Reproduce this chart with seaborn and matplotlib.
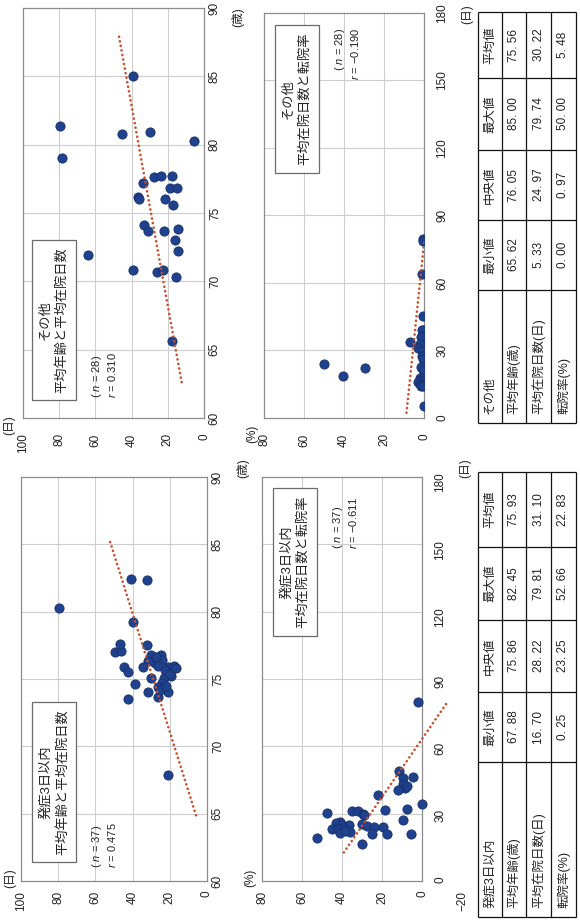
import numpy as np
import pandas as pd
import matplotlib
matplotlib.use("Agg")
import matplotlib.pyplot as plt
import seaborn as sns

# ---- data read off the (rotated) scan ----
# その他 (n = 28): mean age vs mean stay
other_age = [85.0, 81.4, 79.0, 80.8, 80.9, 80.3, 77.2, 77.6, 77.7, 77.7, 76.2, 76.0, 76.8, 76.8,
             76.0, 75.6, 74.1, 73.7, 73.7, 73.8, 73.0, 72.2, 71.9, 70.8, 70.7, 70.8, 70.3, 65.62]
other_days_a = [39.2, 79.74, 78.5, 45.3, 29.8, 5.33, 33.7, 27.6, 23.8, 17.7, 36.5, 35.9, 18.8, 14.9,
                21.5, 17.1, 33.1, 30.9, 22.1, 14.4, 16.0, 14.4, 64.1, 39.2, 26.0, 22.7, 15.5, 17.7]
# その他: mean stay vs transfer rate
other_days_b = [79.74, 78.5, 64.1, 45.3, 39.2, 39.2, 36.5, 35.9, 33.7, 33.1, 30.9, 29.8, 27.6, 26.0,
                23.8, 22.7, 22.1, 21.5, 18.8, 17.7, 17.7, 17.1, 16.0, 15.5, 14.9, 14.4, 14.4, 5.33]
other_rate = [0.5, 0.6, 0.8, 0.3, 0.3, 0.9, 0.8, 1.5, 7.0, 2.0, 2.8, 0.9, 1.0, 0.7,
              50.0, 1.6, 29.5, 0.7, 40.5, 2.0, 1.0, 1.4, 3.0, 1.1, 2.0, 1.4, 0.5, 0.0]

# 発症3日以内 (n = 37): mean age vs mean stay
early_age = [80.3, 82.45, 82.35, 79.2, 77.0, 77.1, 77.6, 77.5, 76.8, 76.8, 76.4, 76.2, 76.3, 76.0,
             75.9, 75.5, 75.9, 75.9, 76.0, 75.5, 75.2, 75.1, 75.1, 74.7, 74.4, 74.6, 74.0, 73.7,
             74.0, 73.5, 67.88, 75.7, 75.4, 74.2, 74.5, 75.8, 76.6]
early_days_a = [79.81, 40.9, 32.3, 39.8, 49.5, 46.2, 46.8, 32.3, 30.1, 24.7, 24.2, 28.0, 31.7, 26.3,
                44.6, 42.5, 34.4, 21.0, 17.7, 21.5, 19.4, 30.1, 23.1, 24.2, 26.3, 38.7, 31.7, 26.3,
                21.0, 42.5, 21.0, 22.6, 19.9, 25.3, 22.0, 16.7, 27.4]
# 発症3日以内: mean stay vs transfer rate
early_days_b = [79.8, 49.2, 46.3, 46.0, 43.4, 41.6, 42.3, 40.5, 38.3, 34.3, 32.0, 31.7, 31.0, 31.0,
                30.4, 30.0, 27.2, 26.3, 25.7, 25.4, 25.0, 25.0, 24.5, 24.2, 24.2, 23.5, 23.0, 23.0,
                22.0, 21.2, 20.9, 20.9, 20.9, 19.0, 16.7, 29.5, 22.5]
early_rate = [1.8, 11.3, 4.3, 9.3, 9.3, 8.5, 7.7, 11.8, 22.2, 0.25, 7.3, 18.5, 35.0, 32.2,
              47.3, 29.7, 9.3, 41.0, 43.0, 30.2, 40.2, 36.3, 27.7, 23.8, 19.6, 39.3, 45.2, 41.8,
              36.0, 41.0, 25.2, 17.7, 5.7, 52.66, 30.0, 29.0, 38.5]

# summary tables
stat_names = ["最小値", "中央値", "最大値", "平均値"]
row_names = ["平均年齢(歳)", "平均在院日数(日)", "転院率(%)"]
other_stats = [[65.62, 76.05, 85.00, 75.56], [5.33, 24.97, 79.74, 30.22], [0.00, 0.97, 50.00, 5.48]]
early_stats = [[67.88, 75.86, 82.45, 75.93], [16.70, 28.22, 79.81, 31.10], [0.25, 23.25, 52.66, 22.83]]

age_ticks = [60, 65, 70, 75, 80, 85, 90]
stay_ticks = [100, 80, 60, 40, 20, 0]
rate_ticks = [80, 60, 40, 20, 0]
day_ticks = [0, 30, 60, 90, 120, 150, 180]

# ---- style ----
sns.set_style("white")
plt.rcParams["font.family"] = ["Liberation Sans", "Noto Sans CJK JP"]
plt.rcParams["mathtext.fontset"] = "custom"
plt.rcParams["mathtext.it"] = "Liberation Sans:italic"
plt.rcParams["mathtext.rm"] = "Liberation Sans"

W, H = 580, 922
DOT = "#20418e"
TREND = "#c9502e"
GRID = "#cdcdcd"
FRAME = "#8c8c8c"

fig = plt.figure(figsize=(W / 100, H / 100), dpi=100)
fig.patch.set_facecolor("white")


def box(x0, y0, x1, y1):
    # pixel box in image coords (y down) -> figure rect
    return [x0 / W, 1 - y1 / H, (x1 - x0) / W, (y1 - y0) / H]


def trend(x, y, back, fwd):
    x = np.asarray(x)
    k, b = np.polyfit(x, np.asarray(y), 1)
    xs = np.array([x.min() - back, x.max() + fwd])
    return xs, k * xs + b


def setup(ax, xlim, xticks, ylim, yticks, xpad, ypad):
    ax.set_xlim(*xlim)
    ax.set_ylim(*ylim)
    ax.set_xticks(xticks)
    ax.set_yticks(yticks)
    ax.yaxis.tick_right()
    ax.tick_params(length=0, labelsize=8.5, colors="#222222")
    ax.tick_params(axis="x", pad=xpad, labelrotation=90)
    ax.tick_params(axis="y", pad=ypad, labelrotation=90)
    for lab in ax.get_yticklabels():
        lab.set_va("center")
    for sp in ax.spines.values():
        sp.set_color(FRAME)
        sp.set_linewidth(0.9)
    ax.set_xlabel("")
    ax.set_ylabel("")


def dots(ax, x, y):
    sns.scatterplot(x=x, y=y, ax=ax, color=DOT, s=44, edgecolor="#15306a",
                    linewidth=0.6, zorder=3, legend=False)


def tline(ax, x, y):
    ax.plot(x, y, color=TREND, lw=1.9, linestyle=(0, (0.05, 1.7)),
            dash_capstyle="round", zorder=4)


# panel A: その他 age vs stay
axA = fig.add_axes(box(23, 8, 204, 418))
setup(axA, (100, 0), stay_ticks, (60, 90), age_ticks, 11, 3.5)
axA.vlines(stay_ticks[1:-1], 60, 90, color=GRID, lw=0.8, zorder=0)
axA.hlines(age_ticks[1:-1], 0, 100, color=GRID, lw=0.8, zorder=0)
dots(axA, other_days_a, other_age)
ages, fit = trend(other_age, other_days_a, 3, 3)
tline(axA, fit, ages)

# panel B: その他 stay vs transfer rate
axB = fig.add_axes(box(264, 13, 424, 418))
setup(axB, (80, 0), rate_ticks, (0, 180), day_ticks, 11, 9)
axB.vlines(rate_ticks[1:-1], 0, 180, color=GRID, lw=0.8, zorder=0)
axB.hlines(day_ticks[1:-1], 0, 80, color=GRID, lw=0.8, zorder=0)
dots(axB, other_rate, other_days_b)
days, fit = trend(other_days_b, other_rate, 3, 0)
tline(axB, fit, days)

# panel C: 発症3日以内 age vs stay
axC = fig.add_axes(box(21, 477, 207, 881))
setup(axC, (100, 0), stay_ticks, (60, 90), age_ticks, 7, 3.5)
axC.vlines(stay_ticks[1:-1], 60, 90, color=GRID, lw=0.8, zorder=0)
axC.hlines(age_ticks[1:-1], 0, 100, color=GRID, lw=0.8, zorder=0)
dots(axC, early_days_a, early_age)
ages, fit = trend(early_age, early_days_a, 3, 3)
tline(axC, fit, ages)

# panel D: 発症3日以内 stay vs transfer rate (axis runs to -20)
axD = fig.add_axes(box(262, 477, 462, 881))
setup(axD, (80, -20), rate_ticks + [-20], (0, 180), day_ticks, 7, 9)
axD.spines["right"].set_position(("data", 0))
axD.spines["top"].set_bounds(0, 80)
axD.spines["bottom"].set_bounds(0, 80)
axD.vlines(rate_ticks[1:-1], 0, 180, color=GRID, lw=0.8, zorder=0)
axD.hlines(day_ticks[1:-1], 0, 80, color=GRID, lw=0.8, zorder=0)
dots(axD, early_rate, early_days_b)
days, fit = trend(early_days_b, early_rate, 4, 0)
tline(axD, fit, days)

# overlay in pixel coords for labels, boxes and tables
axT = fig.add_axes([0, 0, 1, 1])
axT.set_xlim(0, W)
axT.set_ylim(H, 0)
axT.axis("off")


def t(x, y, s, size=8.5, **kw):
    kw.setdefault("ha", "center")
    kw.setdefault("va", "center")
    axT.text(x, y, s, rotation=90, fontsize=size, color="#222222", **kw)


# axis units
for x, y, s in [(9, 425, "(日)"), (238, 17, "(歳)"), (252, 434, "(%)"), (467, 14, "(日)"),
                (10, 878, "(日)"), (243, 468, "(歳)"), (250, 878, "(%)"), (465, 468, "(日)")]:
    t(x, y, s, size=8.5)

# chart title boxes
bbox = dict(boxstyle="square,pad=0.55", fc="white", ec="#6a6a6a", lw=0.9)
t(54, 320, "その他\n平均年齢と平均在院日数", size=9.5, linespacing=1.45, bbox=bbox)
t(297, 99, "その他\n平均在院日数と転院率", size=9.5, linespacing=1.45, bbox=bbox)
t(54, 782, "発症3日以内\n平均年齢と平均在院日数", size=9.5, linespacing=1.45, bbox=bbox)
t(295, 562, "発症3日以内\n平均在院日数と転院率", size=9.5, linespacing=1.45, bbox=bbox)


# n and r
def nr(x, y, n, r, end=False):
    ha = "right" if end else "left"
    t(x, y, f"( $n$ = {n})", size=8, ha=ha, rotation_mode="anchor")
    t(x + 15, y, f"$r$ = {r}", size=8, ha=ha, rotation_mode="anchor")


nr(97, 398, 28, "0.310")
nr(340, 28, 28, "−0.190", end=True)
nr(97, 868, 37, "0.475")
nr(338, 549, 37, "−0.611")


def draw_table(x_edges, y_edges, title, stats):
    # x_edges: header row, age, stay, rate ; y_edges: label col (bottom) ... 平均値 (top)
    for x in x_edges:
        axT.vlines(x, y_edges[-1], y_edges[0], color="#111111", lw=0.9)
    for y in y_edges:
        axT.hlines(y, x_edges[0], x_edges[-1], color="#111111", lw=0.9)
    labels = [title] + row_names
    for i, lab in enumerate(labels):
        xc = (x_edges[i] + x_edges[i + 1]) / 2
        t(xc, y_edges[0] - 9, lab, size=9, ha="left", rotation_mode="anchor")
    xh = (x_edges[0] + x_edges[1]) / 2
    for j, name in enumerate(stat_names):
        yc = (y_edges[j + 1] + y_edges[j + 2]) / 2
        t(xh, yc, name, size=9)
        for i, row in enumerate(stats):
            xc = (x_edges[i + 1] + x_edges[i + 2]) / 2
            t(xc, yc, f"{row[j]:.2f}".replace(".", ". "), size=8.5)


draw_table([478, 502, 526, 551, 576], [423, 290, 220, 150, 78, 12], "その他", other_stats)
draw_table([478, 502, 526, 551, 576], [917, 762, 692, 620, 547, 472], "発症3日以内", early_stats)

fig.savefig("out.png", dpi=100)
